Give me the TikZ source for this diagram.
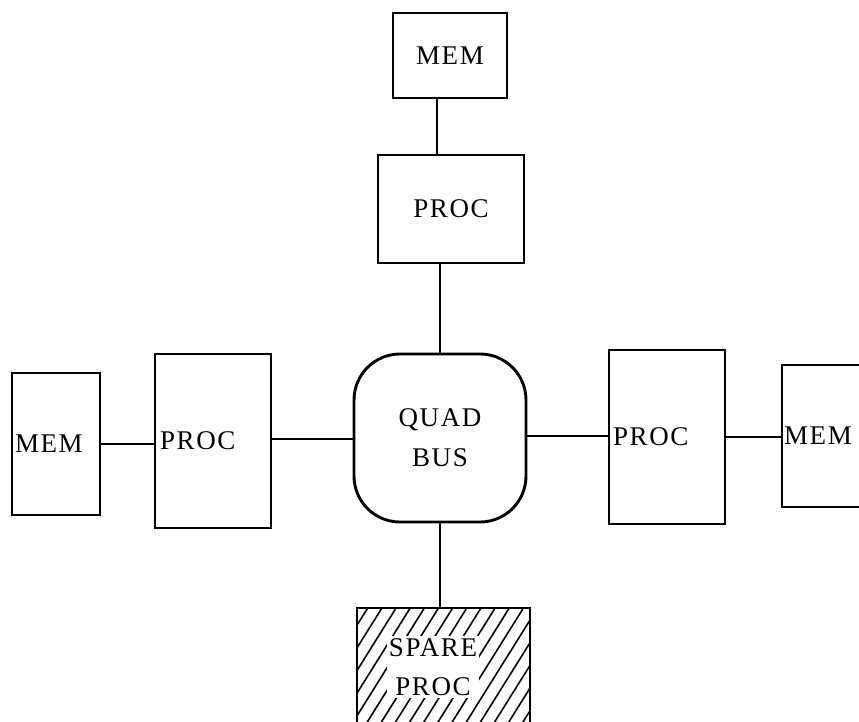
\documentclass[tikz,border=0pt]{standalone}
\usepackage{fontspec}
\setmainfont{Liberation Serif}[LetterSpace=6]
\usetikzlibrary{patterns.meta}
\begin{document}
\begin{tikzpicture}[x=1pt,y=-1pt,
  box/.style={draw,line width=2.9pt,font=\fontsize{27}{42}\selectfont,inner sep=0pt},
  wire/.style={line width=2.7pt}]
\useasboundingbox (0,0) rectangle (859,721);
\clip (0,0) rectangle (859,721);
\node[box,minimum width=114,minimum height=85] (memT) at (450,55.5) {MEM};
\node[box,minimum width=146,minimum height=108] (procT) at (451,209) {PROC};
\node[box,minimum width=172,minimum height=168,rounded corners=46pt,align=center] (quad) at (440,438) {QUAD\\[-2pt]BUS};
\node[box,minimum height=142,text width=82pt,inner xsep=3pt,align=left] (memL) at (56,444) {MEM};
\node[box,minimum height=174,text width=106pt,inner xsep=5pt,align=left] (procL) at (213,441) {PROC};
\node[box,minimum height=174,text width=108pt,inner xsep=4pt,align=left] (procR) at (667,437) {PROC};
\node[box,minimum height=142,text width=84pt,inner xsep=2pt,align=left] (memR) at (826,436) {MEM};
\node[box,minimum width=173,minimum height=134,pattern={Lines[angle=58,distance=12pt,line width=1.6pt]}] (spare) at (443.5,675) {};
\node[font=\fontsize{27}{39}\selectfont,fill=white,inner sep=2pt,align=center] (sparetxt) at (433,667) {SPARE\\PROC};
\draw[wire] ([xshift=-13pt]memT.south) -- ([xshift=-13pt]memT.south |- procT.north);
\draw[wire] (quad.north) -- (quad.north |- procT.south);
\draw[wire] (memL.east) -- (memL.east -| procL.west);
\draw[wire] ([yshift=2pt]procL.east) -- ([yshift=2pt]procL.east -| quad.west);
\draw[wire] ([yshift=2pt]quad.east) -- ([yshift=2pt]quad.east -| procR.west);
\draw[wire] (procR.east) -- (procR.east -| memR.west);
\draw[wire] (quad.south) -- (quad.south |- spare.north);
\end{tikzpicture}
\end{document}
